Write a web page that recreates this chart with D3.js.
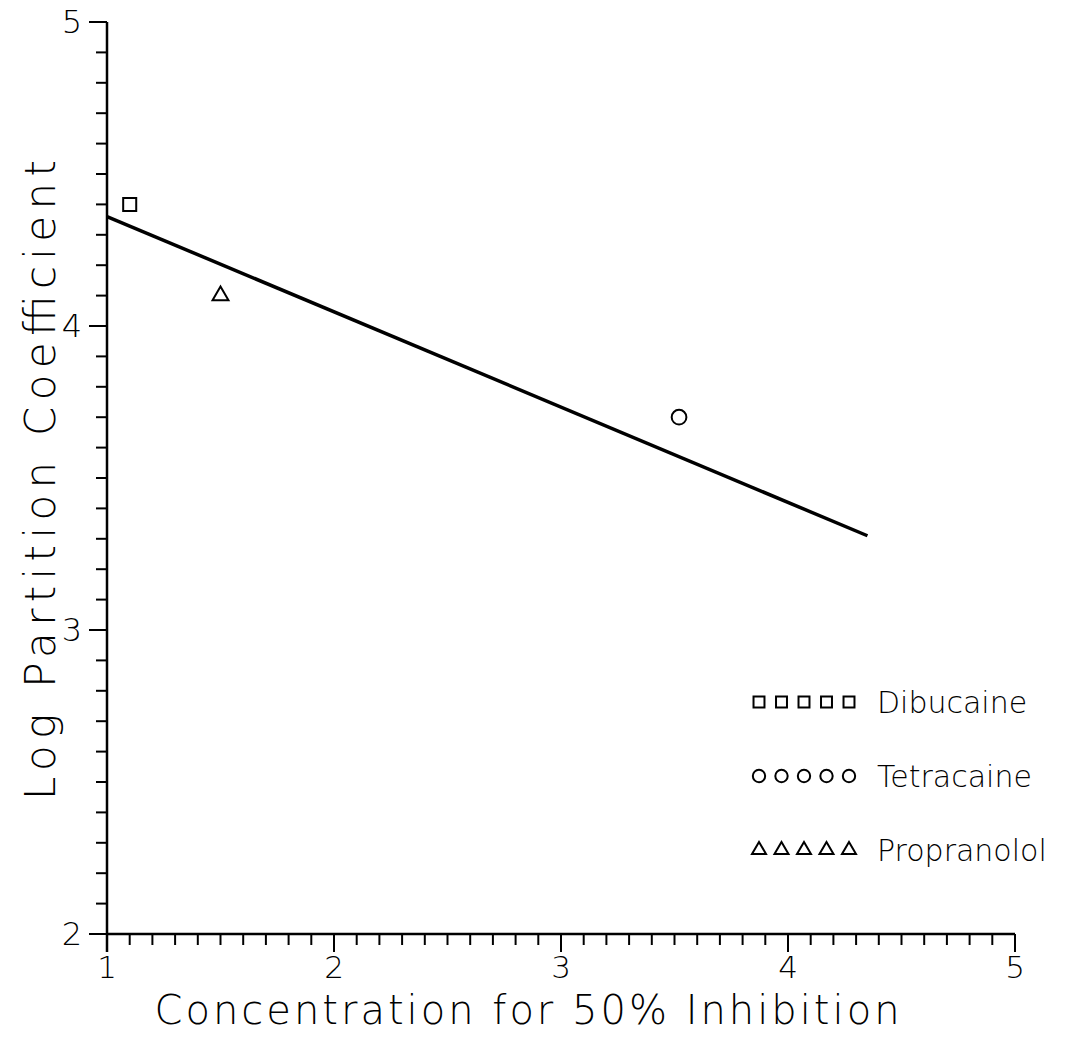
<!DOCTYPE html>
<html>
<head>
<meta charset="utf-8">
<script src="https://cdn.jsdelivr.net/npm/d3@7"></script>
<style>
  body { margin: 0; background: #fff; }
  text { font-family: 'DejaVu Sans', 'Noto Sans', sans-serif; font-weight: 200; fill: #000; }
</style>
</head>
<body>
<div id="chart"></div>
<script>
// data
let drugs = ['Dibucaine', 'Tetracaine', 'Propranolol']
let symbols = ['square', 'circle', 'triangle']
let concX = [1.1, 3.52, 1.5]
let logP = [4.4, 3.7, 4.1]

let fitX = [1, 4.35]
let fitY = [4.36, 3.31]

let xTicks = [1, 2, 3, 4, 5]
let yTicks = [2, 3, 4, 5]

let margin = { top: 22, left: 107, right: 58, bottom: 104 }
let width = 1073 - margin.left - margin.right
let height = 1038 - margin.top - margin.bottom

let svg = d3.select('#chart')
  .append('svg')
  .attr('width', 1073)
  .attr('height', 1038)
  .append('g')
  .attr('transform', `translate(${margin.left}, ${margin.top})`)

let xPositionScale = d3.scaleLinear().domain([1, 5]).range([0, width])
let yPositionScale = d3.scaleLinear().domain([2, 5]).range([height, 0])

// minor ticks every 0.1
let xMinor = d3.range(10, 51).map(d => d / 10)
let yMinor = d3.range(20, 51).map(d => d / 10)

svg.append('g')
  .selectAll('.xminor')
  .data(xMinor)
  .enter()
  .append('line')
  .attr('x1', d => xPositionScale(d))
  .attr('x2', d => xPositionScale(d))
  .attr('y1', height)
  .attr('y2', d => height + (Math.abs(d - Math.round(d)) < 1e-6 ? 18 : 11))
  .attr('stroke', '#000')
  .attr('stroke-width', 2)

svg.append('g')
  .selectAll('.yminor')
  .data(yMinor)
  .enter()
  .append('line')
  .attr('y1', d => yPositionScale(d))
  .attr('y2', d => yPositionScale(d))
  .attr('x1', 0)
  .attr('x2', d => (Math.abs(d - Math.round(d)) < 1e-6 ? -18 : -11))
  .attr('stroke', '#000')
  .attr('stroke-width', 2)

// axis lines
svg.append('line')
  .attr('x1', 0).attr('x2', width)
  .attr('y1', height).attr('y2', height)
  .attr('stroke', '#000').attr('stroke-width', 2.5)

svg.append('line')
  .attr('x1', 0).attr('x2', 0)
  .attr('y1', 0).attr('y2', height + 18)
  .attr('stroke', '#000').attr('stroke-width', 2.5)

// tick labels
svg.append('g')
  .selectAll('text')
  .data(xTicks)
  .enter()
  .append('text')
  .attr('x', d => xPositionScale(d))
  .attr('y', height + 44)
  .attr('text-anchor', 'middle')
  .attr('font-size', 31)
  .text(d => d)

svg.append('g')
  .selectAll('text')
  .data(yTicks)
  .enter()
  .append('text')
  .attr('x', -25)
  .attr('y', d => yPositionScale(d) + 11)
  .attr('text-anchor', 'end')
  .attr('font-size', 32)
  .text(d => d)

// axis titles
svg.append('text')
  .attr('x', 420)
  .attr('y', height + 90)
  .attr('text-anchor', 'middle')
  .attr('font-size', 40)
  .attr('textLength', 745)
  .attr('lengthAdjust', 'spacing')
  .text('Concentration  for  50%  Inhibition')

svg.append('text')
  .attr('transform', `translate(-52, 458) rotate(-90)`)
  .attr('text-anchor', 'middle')
  .attr('font-size', 42)
  .attr('textLength', 640)
  .attr('lengthAdjust', 'spacing')
  .text('Log  Partition  Coefficient')

// fitted line
let line = d3.line()
  .x(d => xPositionScale(d[0]))
  .y(d => yPositionScale(d[1]))

svg.append('path')
  .datum(d3.zip(fitX, fitY))
  .attr('d', line)
  .attr('fill', 'none')
  .attr('stroke', '#000')
  .attr('stroke-width', 3.5)

let symbolType = {
  square: d3.symbolSquare,
  circle: d3.symbolCircle,
  triangle: d3.symbolTriangle
}

// points
svg.append('g')
  .selectAll('path')
  .data(drugs)
  .enter()
  .append('path')
  .attr('d', (d, i) => d3.symbol().type(symbolType[symbols[i]]).size(symbols[i] === 'triangle' ? 110 : 170)())
  .attr('transform', (d, i) => `translate(${xPositionScale(concX[i])}, ${yPositionScale(logP[i])})`)
  .attr('fill', 'none')
  .attr('stroke', '#000')
  .attr('stroke-width', 2)

// legend
let legend = svg.append('g')
  .attr('transform', 'translate(652, 680)')

drugs.forEach((name, i) => {
  let g = legend.append('g').attr('transform', `translate(0, ${i * 74})`)
  g.selectAll('path')
    .data(d3.range(5))
    .enter()
    .append('path')
    .attr('d', d3.symbol().type(symbolType[symbols[i]]).size(symbols[i] === 'triangle' ? 85 : 120)())
    .attr('transform', k => `translate(${k * 22.5}, 0)`)
    .attr('fill', 'none')
    .attr('stroke', '#000')
    .attr('stroke-width', 2)
  g.append('text')
    .attr('x', 118)
    .attr('y', 11)
    .attr('font-size', 30)
    .text(name)
})
</script>
</body>
</html>
